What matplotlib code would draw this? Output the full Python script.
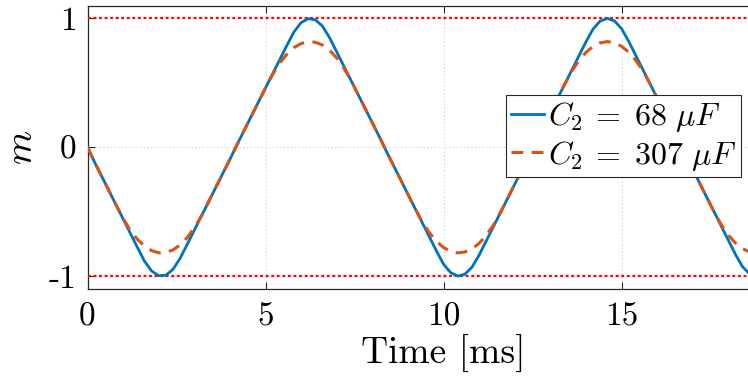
import matplotlib
matplotlib.use("Agg")
import matplotlib.pyplot as plt

plt.rcParams['mathtext.fontset'] = 'cm'
plt.rcParams['font.family'] = 'serif'
plt.rcParams['font.serif'] = ['cmr10', 'DejaVu Serif']
plt.rcParams['axes.unicode_minus'] = False
plt.rcParams['lines.scale_dashes'] = False

# time axis [ms]
time_ms = [0.0, 0.2, 0.4, 0.6, 0.8, 1.0, 1.2, 1.4, 1.6, 1.8,
           2.0, 2.2, 2.4, 2.6, 2.8, 3.0, 3.2, 3.4, 3.6, 3.8,
           4.0, 4.2, 4.4, 4.6, 4.8, 5.0, 5.2, 5.4, 5.6, 5.8,
           6.0, 6.2, 6.4, 6.6, 6.8, 7.0, 7.2, 7.4, 7.6, 7.8,
           8.0, 8.2, 8.4, 8.6, 8.8, 9.0, 9.2, 9.4, 9.6, 9.8,
           10.0, 10.2, 10.4, 10.6, 10.8, 11.0, 11.2, 11.4, 11.6, 11.8,
           12.0, 12.2, 12.4, 12.6, 12.8, 13.0, 13.2, 13.4, 13.6, 13.8,
           14.0, 14.2, 14.4, 14.6, 14.8, 15.0, 15.2, 15.4, 15.6, 15.8,
           16.0, 16.2, 16.4, 16.6, 16.8, 17.0, 17.2, 17.4, 17.6, 17.8,
           18.0, 18.2, 18.4, 18.6]

# modulation index, C2 = 68 uF
m_68 = [0.0, -0.116, -0.226, -0.336, -0.446, -0.556, -0.666, -0.776, -0.884, -0.960,
        -0.997, -0.993, -0.948, -0.863, -0.754, -0.644, -0.534, -0.424, -0.314, -0.204,
        -0.094, 0.020, 0.130, 0.240, 0.350, 0.460, 0.570, 0.680, 0.790, 0.895,
        0.967, 0.998, 0.989, 0.940, 0.850, 0.740, 0.630, 0.520, 0.410, 0.300,
        0.190, 0.080, -0.034, -0.144, -0.254, -0.364, -0.474, -0.584, -0.694, -0.804,
        -0.907, -0.973, -1.000, -0.985, -0.931, -0.837, -0.727, -0.617, -0.507, -0.397,
        -0.287, -0.177, -0.067, 0.047, 0.157, 0.267, 0.377, 0.487, 0.597, 0.707,
        0.817, 0.917, 0.979, 1.000, 0.981, 0.921, 0.823, 0.713, 0.603, 0.493,
        0.383, 0.273, 0.163, 0.053, -0.061, -0.171, -0.281, -0.391, -0.501, -0.611,
        -0.721, -0.831, -0.927, -0.984]

# modulation index, C2 = 307 uF
m_307 = [0.0, -0.116, -0.226, -0.336, -0.446, -0.553, -0.643, -0.714, -0.767, -0.802,
         -0.819, -0.817, -0.797, -0.758, -0.701, -0.626, -0.533, -0.424, -0.314, -0.204,
         -0.094, 0.020, 0.130, 0.240, 0.350, 0.460, 0.565, 0.653, 0.722, 0.773,
         0.805, 0.819, 0.815, 0.793, 0.752, 0.693, 0.615, 0.520, 0.410, 0.300,
         0.190, 0.080, -0.034, -0.144, -0.254, -0.364, -0.474, -0.577, -0.662, -0.729,
         -0.778, -0.808, -0.820, -0.813, -0.789, -0.746, -0.684, -0.605, -0.507, -0.397,
         -0.287, -0.177, -0.067, 0.047, 0.157, 0.267, 0.377, 0.487, 0.589, 0.672,
         0.736, 0.782, 0.810, 0.820, 0.811, 0.784, 0.739, 0.675, 0.593, 0.493,
         0.383, 0.273, 0.163, 0.053, -0.061, -0.171, -0.281, -0.391, -0.501, -0.600,
         -0.681, -0.743, -0.787, -0.813]

limits = [1.0, -1.0]
labels = [r'$C_2\:=\;68\ \mu F$', r'$C_2\:=\;307\ \mu F$']
xticks = [0, 5, 10, 15]
yticks = [-1, 0, 1]
ytick_labels = ['-1', '0', '1']

W, H = 748, 386
fig = plt.figure(figsize=(W / 100, H / 100), dpi=100)
left, right, top, bottom = 87.5, 799.5, 5.5, 289.0
ax = fig.add_axes([left / W, 1 - bottom / H, (right - left) / W, (bottom - top) / H])

blue = '#0072BD'
orange = '#D95319'

for lim in limits:
    ax.axhline(lim, color='#FF0000', lw=1.6, linestyle=(0, (2.0, 2.0)), zorder=3)
l1, = ax.plot(time_ms, m_68, color=blue, lw=2.0, zorder=4)
l2, = ax.plot(time_ms, m_307, color=orange, lw=2.2, zorder=5)
l2.set_dashes([8.5, 6.0])

ax.set_xlim(0, 20)
ax.set_ylim(-1.1, 1.1)
ax.set_xticks(xticks)
ax.set_xticklabels([str(v) for v in xticks])
ax.set_yticks(yticks)
ax.set_yticklabels(ytick_labels)
ax.tick_params(direction='in', top=True, right=True, length=5, width=0.8,
               labelsize=24, colors='#262626', labelcolor='black')
ax.tick_params(axis='x', pad=10)
ax.tick_params(axis='y', pad=8)
ax.grid(True, color='#d0d0d0', linestyle=':', lw=0.7)
for s in ax.spines.values():
    s.set_color('#262626')
    s.set_linewidth(0.9)

ax.set_xlabel('Time [ms]', fontsize=27, labelpad=2)
ax.set_ylabel('$m$', fontsize=28, labelpad=6)

leg = ax.legend([l1, l2], labels, loc='upper right',
                bbox_to_anchor=(741 / W, 1 - 95 / H), bbox_transform=fig.transFigure,
                fontsize=23, frameon=True, fancybox=False, framealpha=1,
                edgecolor='#262626', handlelength=1.05, handletextpad=0.1,
                borderpad=0.15, labelspacing=0.15, borderaxespad=0)
leg.get_frame().set_linewidth(0.8)

fig.savefig('out.png', dpi=100)
